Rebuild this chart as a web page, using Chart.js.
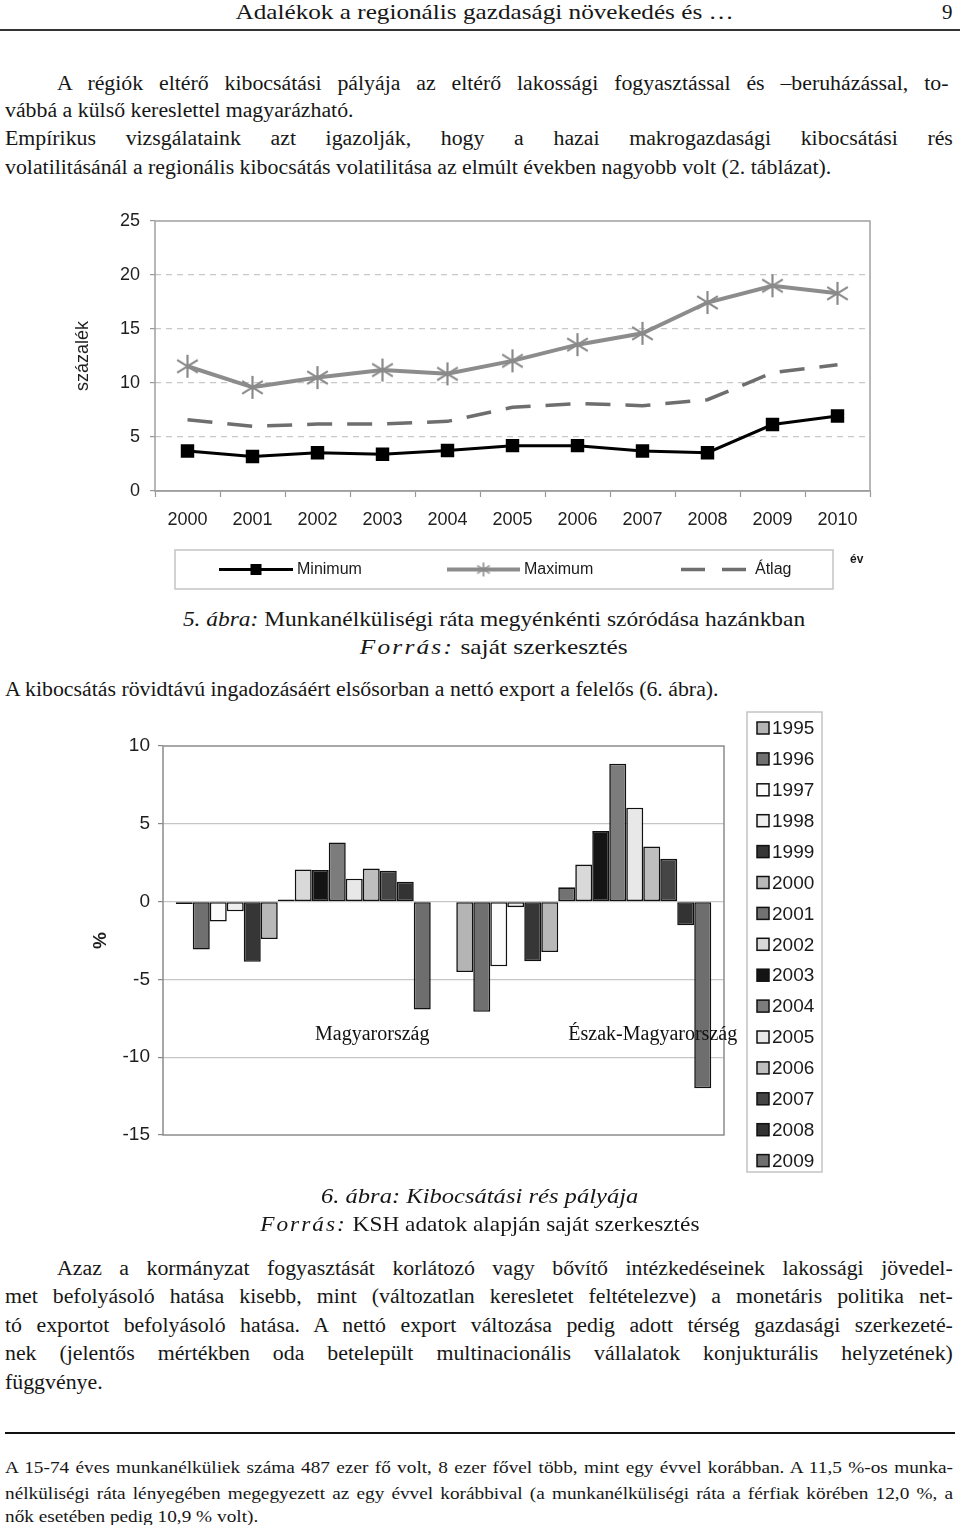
<!DOCTYPE html>
<html lang="hu">
<head>
<meta charset="utf-8">
<script src="https://cdn.jsdelivr.net/npm/chart.js@4.4.1/dist/chart.umd.min.js"></script>
<style>
  body { margin: 0; background: #fff; }
  #oldal { position: relative; width: 960px; height: 1525px; overflow: hidden; font-family: "Liberation Serif", "Times New Roman", serif; color: #161616; }
  .t { position: absolute; white-space: nowrap; font-size: 20.5px; line-height: 28px; }
  .b { transform: scaleX(1.065); transform-origin: 0 0; }
  .j { text-align: justify; text-align-last: justify; white-space: normal; }
  .fn { font-size: 17px; line-height: 24px; transform: scaleX(1.134); transform-origin: 0 0; }
  .kozep { text-align: center; font-size: 21px; }
  .kozep span { display: inline-block; }
  .ritka { letter-spacing: 1.8px; }
  .vonal { position: absolute; height: 2px; background: #333; }
  canvas { position: absolute; left: 0; }
</style>
</head>
<body>
<div id="oldal">
  <div class="t kozep" style="left:0;width:970px;top:-2px"><span style="transform:scaleX(1.2)">Adalékok a regionális gazdasági növekedés és …</span></div>
  <div class="t" style="left:942px;top:-2px;font-size:21px">9</div>
  <div class="vonal" style="left:0;width:960px;top:29px"></div>

  <div class="t b j" style="left:57px;width:837px;top:69px">A régiók eltérő kibocsátási pályája az eltérő lakossági fogyasztással és –beruházással, to-</div>
  <div class="t b" style="left:5px;top:96px">vábbá a külső kereslettel magyarázható.</div>
  <div class="t b j" style="left:5px;width:890px;top:124px">Empírikus vizsgálataink azt igazolják, hogy a hazai makrogazdasági kibocsátási rés</div>
  <div class="t b" style="left:5px;top:153px">volatilitásánál a regionális kibocsátás volatilitása az elmúlt években nagyobb volt (2. táblázat).</div>

  <canvas id="abra5" width="960" height="405" style="top:195px"></canvas>

  <div class="t kozep" style="left:0;width:988px;top:605px"><span style="transform:scaleX(1.115)"><i>5. ábra:</i> Munkanélküliségi ráta megyénkénti szóródása hazánkban</span></div>
  <div class="t kozep" style="left:0;width:988px;top:633px"><span style="transform:scaleX(1.21)"><i class="ritka">Forrás:</i> saját szerkesztés</span></div>
  <div class="t b" style="left:5px;top:675px">A kibocsátás rövidtávú ingadozásáért elsősorban a nettó export a felelős (6. ábra).</div>

  <canvas id="abra6" width="960" height="500" style="top:700px"></canvas>

  <div class="t kozep" style="left:0;width:960px;top:1182px"><span style="transform:scaleX(1.17)"><i>6. ábra: Kibocsátási rés pályája</i></span></div>
  <div class="t kozep" style="left:0;width:960px;top:1210px"><span style="transform:scaleX(1.11)"><i class="ritka">Forrás:</i> KSH adatok alapján saját szerkesztés</span></div>

  <div class="t b j" style="left:57px;width:841px;top:1254px">Azaz a kormányzat fogyasztását korlátozó vagy bővítő intézkedéseinek lakossági jövedel-</div>
  <div class="t b j" style="left:5px;width:890px;top:1282px">met befolyásoló hatása kisebb, mint (változatlan keresletet feltételezve) a monetáris politika net-</div>
  <div class="t b j" style="left:5px;width:890px;top:1311px">tó exportot befolyásoló hatása. A nettó export változása pedig adott térség gazdasági szerkezeté-</div>
  <div class="t b j" style="left:5px;width:890px;top:1339px">nek (jelentős mértékben oda betelepült multinacionális vállalatok konjukturális helyzetének)</div>
  <div class="t b" style="left:5px;top:1368px">függvénye.</div>

  <div class="vonal" style="left:5px;width:950px;top:1432px;background:#111"></div>
  <div class="t j fn" style="left:5px;width:836px;top:1456px">A 15-74 éves munkanélküliek száma 487 ezer fő volt, 8 ezer fővel több, mint egy évvel korábban. A 11,5 %-os munka-</div>
  <div class="t j fn" style="left:5px;width:836px;top:1482px">nélküliségi ráta lényegében megegyezett az egy évvel korábbival (a munkanélküliségi ráta a férfiak körében 12,0 %, a</div>
  <div class="t fn" style="left:5px;top:1505px">nők esetében pedig 10,9 % volt).</div>
</div>

<script>
// 5. ábra adatai
const evek = ['2000', '2001', '2002', '2003', '2004', '2005', '2006', '2007', '2008', '2009', '2010']
const minimum = [3.7, 3.2, 3.55, 3.4, 3.75, 4.2, 4.2, 3.7, 3.55, 6.15, 6.95]
const maximum = [11.55, 9.6, 10.5, 11.2, 10.85, 12.05, 13.55, 14.6, 17.45, 19.0, 18.3]
const atlag = [6.6, 6.0, 6.2, 6.2, 6.45, 7.75, 8.1, 7.9, 8.45, 10.95, 11.7]
const szazalekTickek = [0, 5, 10, 15, 20, 25]

// 6. ábra adatai
const regiok = ['Magyarország', 'Észak-Magyarország']
const evek2 = ['1995', '1996', '1997', '1998', '1999', '2000', '2001', '2002', '2003', '2004', '2005', '2006', '2007', '2008', '2009']
const magyarorszag = [-0.15, -3.08, -1.28, -0.62, -3.87, -2.41, 0.13, 2.07, 2.03, 3.8, 1.47, 2.12, 1.99, 1.28, -6.94]
const eszakMagyarorszag = [-4.53, -7.08, -4.16, -0.36, -3.84, -3.24, 0.92, 2.38, 4.53, 8.86, 6.03, 3.54, 2.75, -1.52, -12.0]
const resTickek = [-15, -10, -5, 0, 5, 10]
const szinek = ['#b4b4b4', '#707070', '#fbfbfb', '#efefef', '#363636', '#b8b8b8', '#727272', '#d9d9d9', '#141414', '#7c7c7c', '#e8e8e8', '#bebebe', '#454545', '#333333', '#6e6e6e']

const betu = '"Liberation Sans", Arial, sans-serif'

// csillag jelölő (függőleges vonal + X)
function csillag(meret, vastag) {
  const c = document.createElement('canvas')
  c.width = meret
  c.height = meret
  const g = c.getContext('2d')
  g.strokeStyle = '#8a8a8a'
  g.lineWidth = vastag
  const m = meret / 2, r = meret / 2 - 1
  g.beginPath()
  g.moveTo(m, m - r); g.lineTo(m, m + r)
  g.moveTo(m - r * 0.9, m - r * 0.55); g.lineTo(m + r * 0.9, m + r * 0.55)
  g.moveTo(m - r * 0.9, m + r * 0.55); g.lineTo(m + r * 0.9, m - r * 0.55)
  g.stroke()
  return c
}
const nagyCsillag = csillag(25, 2.2)
const kisCsillag = csillag(16, 1.6)

// keret a rajzterület körül
const keret = {
  id: 'keret',
  beforeDatasetsDraw(chart, args, opts) {
    const { ctx, chartArea: a } = chart
    ctx.save()
    ctx.strokeStyle = opts.szin
    ctx.lineWidth = 1.5
    ctx.strokeRect(a.left, a.top, a.right - a.left, a.bottom - a.top)
    ctx.restore()
  },
}

// 5. ábra jelmagyarázata
const jelmagyarazat5 = {
  id: 'jelmagyarazat5',
  afterDraw(chart) {
    const ctx = chart.ctx
    const felso = chart.chartArea.bottom + 59
    const kozep = felso + 19.5
    ctx.save()
    ctx.strokeStyle = '#c4c4c4'
    ctx.lineWidth = 1.5
    ctx.strokeRect(175, felso, 658, 39)
    const elemek = [
      { ds: 0, x1: 219, x2: 293, tx: 297 },
      { ds: 1, x1: 447, x2: 520, tx: 524 },
      { ds: 2, x1: 681, x2: 746, tx: 755 },
    ]
    elemek.forEach((e) => {
      const ds = chart.data.datasets[e.ds]
      ctx.save()
      ctx.strokeStyle = ds.borderColor
      ctx.lineWidth = ds.borderWidth
      ctx.setLineDash(ds.borderDash ? [24, 17] : [])
      ctx.beginPath()
      ctx.moveTo(e.x1, kozep)
      ctx.lineTo(e.x2, kozep)
      ctx.stroke()
      ctx.restore()
      const cx = (e.x1 + e.x2) / 2
      if (ds.pointStyle === 'rect') {
        ctx.fillStyle = ds.pointBackgroundColor
        ctx.fillRect(cx - 5.5, kozep - 5.5, 11, 11)
      } else if (ds.pointRadius > 0) {
        ctx.drawImage(kisCsillag, cx - 8, kozep - 8)
      }
      ctx.fillStyle = '#1a1a1a'
      ctx.font = '16px ' + betu
      ctx.textAlign = 'left'
      ctx.textBaseline = 'middle'
      ctx.fillText(ds.label, e.tx, kozep)
    })
    ctx.font = 'bold 12px ' + betu
    ctx.fillText('év', 850, felso + 10)
    ctx.restore()
  },
}

new Chart(document.getElementById('abra5'), {
  type: 'line',
  data: {
    labels: evek,
    datasets: [
      {
        label: 'Minimum',
        data: minimum,
        borderColor: '#000',
        borderWidth: 3,
        pointStyle: 'rect',
        pointRadius: 9.5,
        pointBackgroundColor: '#000',
        pointBorderColor: '#000',
        pointBorderWidth: 0,
      },
      {
        label: 'Maximum',
        data: maximum,
        borderColor: '#8c8c8c',
        borderWidth: 4,
        pointStyle: nagyCsillag,
        pointRadius: 12,
      },
      {
        label: 'Átlag',
        data: atlag,
        borderColor: '#6e6e6e',
        borderWidth: 3.5,
        borderDash: [25, 15],
        pointRadius: 0,
      },
    ],
  },
  options: {
    responsive: false,
    animation: false,
    layout: { padding: { left: 0, right: 90, top: 26, bottom: 0 } },
    scales: {
      x: {
        offset: true,
        grid: { offset: true, drawOnChartArea: false, tickLength: 6, tickColor: '#999', tickWidth: 1.2 },
        border: { color: '#999', width: 1.5 },
        ticks: { font: { family: betu, size: 18 }, color: '#1e1e1e', padding: 12, maxRotation: 0 },
        afterFit: (s) => { s.height = 109 },
      },
      y: {
        min: 0,
        max: 25,
        afterBuildTicks: (s) => { s.ticks = szazalekTickek.map((v) => ({ value: v })) },
        grid: {
          color: (c) => (c.tick && (c.tick.value === 0 || c.tick.value === 25) ? 'rgba(0,0,0,0)' : '#c8c8c8'),
          tickColor: '#999',
          tickLength: 5,
          lineWidth: 1.2,
        },
        border: { display: false, dash: [6, 5] },
        ticks: { font: { family: betu, size: 18 }, color: '#1e1e1e', padding: 10 },
        title: { display: true, text: 'százalék', font: { family: betu, size: 18 }, color: '#1e1e1e', padding: { top: 72, bottom: 0 } },
        afterFit: (s) => { s.width = 155 },
      },
    },
    plugins: {
      legend: { display: false },
      tooltip: { enabled: false },
      keret: { szin: '#a0a0a0' },
    },
  },
  plugins: [keret, jelmagyarazat5],
})

// 6. ábra: régiónevek a rajzterületen belül, és a jobb oldali jelmagyarázat
const regioFeliratok = {
  id: 'regioFeliratok',
  afterDatasetsDraw(chart) {
    const ctx = chart.ctx
    const x = chart.scales.x, y = chart.scales.y
    ctx.save()
    ctx.fillStyle = '#111'
    ctx.font = '20px "Liberation Serif", "Times New Roman", serif'
    ctx.textAlign = 'center'
    ctx.textBaseline = 'middle'
    regiok.forEach((r, i) => {
      ctx.fillText(r, x.getPixelForValue(i) + 69, y.getPixelForValue(-8.55))
    })
    ctx.restore()
  },
}

const jelmagyarazat6 = {
  id: 'jelmagyarazat6',
  afterDraw(chart) {
    const ctx = chart.ctx
    ctx.save()
    ctx.strokeStyle = '#c4c4c4'
    ctx.lineWidth = 1.5
    ctx.strokeRect(747, 12, 75, 460)
    chart.data.datasets.forEach((ds, i) => {
      const cy = 28 + i * 30.9
      ctx.fillStyle = ds.backgroundColor
      ctx.fillRect(757, cy - 6, 12, 12)
      ctx.strokeStyle = '#111'
      ctx.lineWidth = 1.5
      ctx.strokeRect(757, cy - 6, 12, 12)
      ctx.fillStyle = '#1a1a1a'
      ctx.font = '19px ' + betu
      ctx.textAlign = 'left'
      ctx.textBaseline = 'middle'
      ctx.fillText(ds.label, 772, cy + 1)
    })
    ctx.restore()
  },
}

new Chart(document.getElementById('abra6'), {
  type: 'bar',
  data: {
    labels: regiok,
    datasets: evek2.map((ev, i) => ({
      label: ev,
      data: [magyarorszag[i], eszakMagyarorszag[i]],
      backgroundColor: szinek[i],
      borderColor: '#111',
      borderWidth: 1.6,
      borderSkipped: false,
    })),
  },
  options: {
    responsive: false,
    animation: false,
    categoryPercentage: 0.909,
    barPercentage: 1.0,
    layout: { padding: { left: 0, right: 236, top: 46, bottom: 0 } },
    scales: {
      x: {
        grid: { display: false },
        border: { display: false },
        ticks: { display: false },
        afterFit: (s) => { s.height = 65 },
      },
      y: {
        min: -15,
        max: 10,
        afterBuildTicks: (s) => { s.ticks = resTickek.map((v) => ({ value: v })) },
        grid: {
          color: (c) => (c.tick && (c.tick.value === 10 || c.tick.value === -15) ? 'rgba(0,0,0,0)' : '#c6c6c6'),
          tickColor: '#888',
          tickLength: 5,
          lineWidth: 1.2,
        },
        border: { display: false },
        ticks: { font: { family: betu, size: 19 }, color: '#1e1e1e', padding: 8 },
        title: { display: true, text: '%', font: { family: betu, size: 19, weight: 'bold' }, color: '#1e1e1e', padding: { top: 89, bottom: 0 } },
        afterFit: (s) => { s.width = 163 },
      },
    },
    plugins: {
      legend: { display: false },
      tooltip: { enabled: false },
      keret: { szin: '#8c8c8c' },
    },
  },
  plugins: [keret, regioFeliratok, jelmagyarazat6],
})
</script>
</body>
</html>
